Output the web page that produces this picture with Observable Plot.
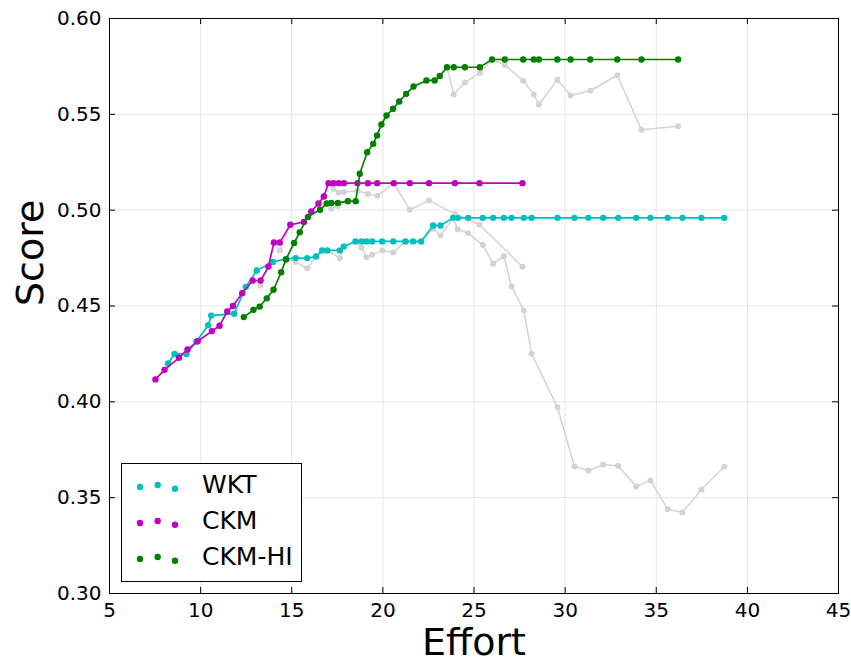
<!DOCTYPE html>
<html><head><meta charset="utf-8">
<script src="https://cdn.jsdelivr.net/npm/d3@7"></script>
<script src="https://cdn.jsdelivr.net/npm/@observablehq/plot@0.6"></script>
<style>
body{margin:0;background:#fff;}
#wrap{position:relative;width:851px;height:664px;font-family:"DejaVu Sans",sans-serif;color:#000;}
#wrap svg{font-family:"DejaVu Sans",sans-serif;color:#000;}
#legend{position:absolute;left:121px;top:463px;width:179px;height:117px;border:1px solid #000;background:#fff;box-sizing:content-box;}
.row{position:absolute;left:0;height:36px;width:179px;}
.row svg{position:absolute;left:0;top:0;}
.row span{position:absolute;left:80px;top:0;line-height:36px;font-size:25px;font-family:"DejaVu Sans",sans-serif;}
</style></head><body><div id="wrap"></div>
<script>
// ---- data ----
const xTicks = [5, 10, 15, 20, 25, 30, 35, 40, 45];
const yTicks = [0.30, 0.35, 0.40, 0.45, 0.50, 0.55, 0.60];
const seriesNames = ["WKT", "CKM", "CKM-HI"];
const seriesColors = ["#00bfbf", "#bf00bf", "#008000"];

const wktEffort = [8.22, 8.57, 9.22, 9.77, 10.42, 10.58, 11.84, 12.48, 13.08, 13.96, 14.70, 15.21, 15.85, 16.34, 16.67, 16.95, 17.64, 17.86,
  18.50, 18.83, 19.10, 19.41, 19.96, 20.57, 21.24, 21.66, 22.10, 22.76, 23.16,
  23.86, 24.11, 24.68, 25.48, 26.05, 26.64, 27.06, 27.73, 28.16, 29.58, 30.51, 31.28, 32.09, 32.91, 33.90, 34.68, 35.63, 36.44, 37.48, 38.73];
const wktScore = [0.420, 0.425, 0.425, 0.4315, 0.440, 0.445, 0.446, 0.460, 0.4685, 0.473, 0.4746, 0.475, 0.475, 0.4758, 0.479, 0.479, 0.479, 0.481,
  0.4837, 0.4837, 0.4837, 0.4837, 0.4837, 0.4837, 0.4837, 0.4837, 0.4837, 0.492, 0.492,
  0.496, 0.496, 0.496, 0.496, 0.496, 0.496, 0.496, 0.496, 0.496, 0.496, 0.496, 0.496, 0.496, 0.496, 0.496, 0.496, 0.496, 0.496, 0.496, 0.496];
const wktRaw = [0.420, 0.425, 0.425, 0.4315, 0.440, 0.445, 0.446, 0.460, 0.4685, 0.473, 0.4746, 0.473, 0.4697, 0.4758, 0.479, 0.479, 0.4750, 0.481,
  0.4837, 0.4804, 0.4755, 0.4767, 0.4790, 0.4779, 0.4837, 0.4837, 0.4837, 0.4903, 0.4868,
  0.496, 0.4899, 0.4880, 0.4819, 0.4720, 0.4760, 0.4602, 0.4477, 0.4251, 0.3972, 0.3663, 0.3642, 0.3672, 0.3666, 0.3558, 0.3590, 0.3440, 0.3423, 0.3543, 0.3661];

const ckmEffort = [7.52, 8.02, 8.81, 9.28, 9.84, 10.62, 11.04, 11.46, 11.77, 12.28, 12.86, 13.29, 13.72, 14.02, 14.34, 14.92, 15.67, 16.07, 16.47, 16.76,
  17.02, 17.29, 17.58, 17.86, 18.61, 19.18, 19.69, 20.60, 21.48, 22.53, 23.95, 25.30, 27.66];
const ckmScore = [0.4117, 0.4167, 0.4230, 0.4273, 0.4316, 0.4369, 0.4397, 0.4471, 0.4500, 0.4567, 0.4633, 0.4633, 0.4706, 0.4831, 0.4831, 0.4924, 0.4938, 0.4993, 0.5035, 0.5071,
  0.5141, 0.5141, 0.5141, 0.5141, 0.5141, 0.5141, 0.5141, 0.5141, 0.5141, 0.5141, 0.5141, 0.5141, 0.5141];
const ckmRaw = [0.4117, 0.4167, 0.4230, 0.4273, 0.4316, 0.4369, 0.4397, 0.4471, 0.4500, 0.4567, 0.4633, 0.4607, 0.4706, 0.4831, 0.4790, 0.4924, 0.4938, 0.4993, 0.5035, 0.5071,
  0.5141, 0.5111, 0.5091, 0.5095, 0.5100, 0.5085, 0.5075, 0.5141, 0.5002, 0.5050, 0.4981, 0.4924, 0.4705];

const hiEffort = [12.37, 12.90, 13.24, 13.63, 14.00, 14.42, 14.68, 15.13, 15.44, 15.89, 16.55, 16.92, 17.17, 17.53, 18.08, 18.51,
  18.73, 19.14, 19.47, 19.68, 19.92, 20.20, 20.56, 20.90, 21.28, 21.68, 22.39, 22.84, 23.12,
  23.52, 23.89, 24.50, 25.32,
  25.99, 26.69, 27.70, 28.28, 28.56, 29.57, 30.30, 31.38, 32.86, 34.19, 36.20];
const hiScore = [0.4442, 0.4480, 0.4497, 0.4540, 0.4585, 0.4676, 0.4743, 0.4829, 0.4885, 0.4965, 0.5002, 0.5035, 0.5038, 0.5038, 0.5047, 0.5047,
  0.5190, 0.5302, 0.5346, 0.5390, 0.5447, 0.5494, 0.5529, 0.5567, 0.5607, 0.5645, 0.5677, 0.5677, 0.5700,
  0.5746, 0.5746, 0.5746, 0.5746,
  0.5786, 0.5786, 0.5786, 0.5786, 0.5786, 0.5786, 0.5786, 0.5786, 0.5786, 0.5786, 0.5786];
const hiRaw = [0.4442, 0.4480, 0.4497, 0.4540, 0.4585, 0.4676, 0.4743, 0.4829, 0.4885, 0.4965, 0.5002, 0.5035, 0.5007, 0.5021, 0.5047, 0.5047,
  0.5190, 0.5302, 0.5346, 0.5390, 0.5447, 0.5494, 0.5529, 0.5567, 0.5607, 0.5645, 0.5677, 0.5677, 0.5700,
  0.5746, 0.5604, 0.5666, 0.5716,
  0.5786, 0.5758, 0.5675, 0.5604, 0.5551, 0.5680, 0.5598, 0.5623, 0.5704, 0.5419, 0.5438];

// ---- build tables ----
const efforts = [wktEffort, ckmEffort, hiEffort];
const scores = [wktScore, ckmScore, hiScore];
const raws = [wktRaw, ckmRaw, hiRaw];
const best = [], raw = [];
seriesNames.forEach((name, i) => {
  efforts[i].forEach((e, j) => {
    best.push({series: name, effort: e, score: scores[i][j]});
    raw.push({series: name, effort: e, score: raws[i][j]});
  });
});

const W = 851, H = 664, mL = 109, mR = 13, mT = 18, mB = 71;
const frameW = W - mL - mR, frameH = H - mT - mB, tick = 6;
const grey = "#d3d3d3";

const marks = [
  Plot.gridX(xTicks, {stroke: "#e5e5e5", strokeOpacity: 1}),
  Plot.gridY(yTicks, {stroke: "#e5e5e5", strokeOpacity: 1}),
  Plot.line(raw, {x: "effort", y: "score", z: "series", stroke: grey, strokeWidth: 1.5}),
  Plot.dot(raw, {x: "effort", y: "score", r: 3, fill: grey})
];
seriesNames.forEach((name, i) => {
  const d = best.filter(b => b.series === name);
  marks.push(Plot.line(d, {x: "effort", y: "score", stroke: seriesColors[i], strokeWidth: 1.6}));
  marks.push(Plot.dot(d, {x: "effort", y: "score", r: 3.2, fill: seriesColors[i]}));
});
marks.push(
  Plot.ruleX(xTicks, {insetTop: frameH - tick, stroke: "#000"}),
  Plot.ruleX(xTicks, {insetBottom: frameH - tick, stroke: "#000"}),
  Plot.ruleY(yTicks, {insetRight: frameW - tick, stroke: "#000"}),
  Plot.ruleY(yTicks, {insetLeft: frameW - tick, stroke: "#000"}),
  Plot.frame({stroke: "#000", strokeWidth: 1}),
  Plot.axisX(xTicks, {tickSize: 0, tickPadding: 9, fontSize: 20, label: null, fill: "#000"}),
  Plot.axisY(yTicks, {tickSize: 0, tickPadding: 8, fontSize: 20, label: null, tickFormat: d3.format(".2f"), fill: "#000"}),
  Plot.text(["Effort"], {frameAnchor: "bottom", dy: 61, fontSize: 38, fill: "#000"}),
  Plot.text(["Score"], {frameAnchor: "left", dx: -79, rotate: -90, fontSize: 38, fill: "#000"})
);

const chart = Plot.plot({
  width: W, height: H,
  marginLeft: mL, marginRight: mR, marginTop: mT, marginBottom: mB,
  x: {domain: [5, 45]},
  y: {domain: [0.30, 0.60]},
  style: {fontFamily: "DejaVu Sans, sans-serif", background: "#fff", color: "#000"},
  marks
});
const wrap = document.getElementById("wrap");
wrap.appendChild(chart);

// ---- legend ----
const legend = document.createElement("div");
legend.id = "legend";
const dotDx = [18, 35.7, 53];
const dotDy = [0, -2, 1.7];
seriesNames.forEach((name, i) => {
  const row = document.createElement("div");
  row.className = "row";
  row.style.top = (3 + i * 36) + "px";
  const ns = "http://www.w3.org/2000/svg";
  const s = document.createElementNS(ns, "svg");
  s.setAttribute("width", 70); s.setAttribute("height", 36);
  dotDx.forEach((cx, k) => {
    const c = document.createElementNS(ns, "circle");
    c.setAttribute("cx", cx); c.setAttribute("cy", 20 + dotDy[k]);
    c.setAttribute("r", 3.2); c.setAttribute("fill", seriesColors[i]);
    s.appendChild(c);
  });
  row.appendChild(s);
  const t = document.createElement("span");
  t.textContent = name;
  row.appendChild(t);
  legend.appendChild(row);
});
wrap.appendChild(legend);
</script>
</body></html>
